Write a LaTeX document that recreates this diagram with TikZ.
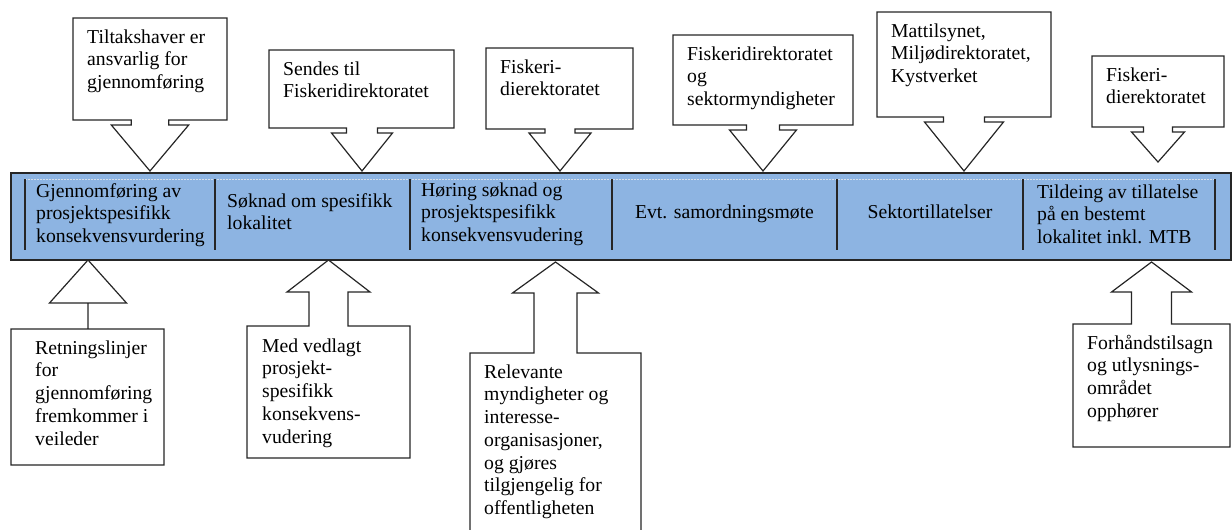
\documentclass[tikz,border=0pt]{standalone}
\usepackage{fontspec}
\setmainfont{Liberation Serif}
\definecolor{barblue}{RGB}{141,180,226}
\definecolor{ink}{RGB}{38,38,38}
\definecolor{dotline}{RGB}{215,222,232}
% strut that fixes the height of a label's first line
\newcommand\ts{\rule{0pt}{15pt}}
% callout box with a downward arrow:
% left, top, right, bottom, arrow x, shaft half width, shaft end, head half width, tip
\newcommand\calldown[9]{%
  \draw[callout] (#1,#2) -- (#3,#2) -- (#3,#4) -- ({#5+#6},#4) -- ({#5+#6},#7)
    -- ({#5+#8},#7) -- (#5,#9) -- ({#5-#8},#7) -- ({#5-#6},#7) -- ({#5-#6},#4)
    -- (#1,#4) -- cycle;}
% callout box with an upward arrow:
% left, top, right, bottom, arrow x, shaft half width, head base, head half width, tip
\newcommand\callup[9]{%
  \draw[callout] (#1,#2) -- (#1,#4) -- (#3,#4) -- (#3,#2) -- ({#5+#6},#2)
    -- ({#5+#6},#7) -- ({#5+#8},#7) -- (#5,#9) -- ({#5-#8},#7) -- ({#5-#6},#7)
    -- ({#5-#6},#2) -- cycle;}
\tikzset{
  callout/.style={draw=ink, line width=1.2pt, fill=white, line join=miter},
  barbox/.style={draw=ink, line width=1.5pt, fill=barblue, inner sep=0pt,
    anchor=north west},
  divider/.style={draw=ink, line width=1.3pt},
  txt/.style={anchor=north west, inner sep=0pt, align=left,
    font=\fontsize{19.7}{22.7}\selectfont},
  linetxt/.style={inner sep=0pt, font=\fontsize{19.7}{22.7}\selectfont}
}
\begin{document}
\begin{tikzpicture}[x=1pt, y=-1pt]
\useasboundingbox (0,0) rectangle (1232,530);

% timeline bar
\node[barbox, minimum width=1220pt, minimum height=87pt] (bar) at (10,172) {};
\draw[dotline, line width=0.8pt, dash pattern=on 1.5pt off 1.5pt] (25,179) -- (1215,179);
\foreach \x in {25,215,410,612,837,1023,1215}
  \draw[divider] (\x,179) -- (\x,250);

% phases
\node[txt] (s1) at (36,182) {\ts Gjennomføring av\\prosjektspesifikk\\konsekvensvurdering};
\node[txt] (s2) at (227,192) {\ts Søknad om spesifikk\\lokalitet};
\node[txt] (s3) at (421,181) {\ts Høring søknad og\\prosjektspesifikk\\konsekvensvudering};
\node[linetxt, anchor=base] (s4) at (724.5,218) {Evt. samordningsmøte};
\node[linetxt, anchor=base] (s5) at (930,218) {Sektortillatelser};
\node[txt] (s6) at (1037,183) {\ts Tildeing av tillatelse\\på en bestemt\\lokalitet inkl. MTB};

% callouts above the bar
\calldown{73}{18}{227}{120}{150}{18.7}{125}{38.7}{171}
\node[txt] (c1) at (87,28) {\ts Tiltakshaver er\\ansvarlig for\\gjennomføring};
\calldown{269}{50}{454}{128}{362}{15.5}{133}{30.5}{171}
\node[txt] (c2) at (283,60) {\ts Sendes til\\Fiskeridirektoratet};
\calldown{486}{48}{633}{129}{560}{15}{133}{31}{171}
\node[txt] (c3) at (500,58) {\ts Fiskeri-\\dierektoratet};
\calldown{673}{35}{853}{125}{763}{16.5}{130}{33.5}{171}
\node[txt] (c4) at (687,45) {\ts Fiskeridirektoratet\\og\\sektormyndigheter};
\calldown{877}{12}{1051}{117}{964}{20.5}{122}{39.5}{171}
\node[txt] (c5) at (891,22) {\ts Mattilsynet,\\Miljødirektoratet,\\Kystverket};
\calldown{1092}{56}{1224}{127}{1158}{14.5}{132}{26.5}{162}
\node[txt] (c6) at (1106,66) {\ts Fiskeri-\\dierektoratet};

% callouts below the bar
\callup{11}{329}{164}{465}{88}{0}{303}{38.5}{260}
\node[txt] (b1) at (35,339) {\ts Retningslinjer\\for\\gjennomføring\\fremkommer i\\veileder};
\callup{247}{326}{410}{458}{328.5}{19.5}{292}{41.5}{260}
\node[txt] (b2) at (262,337) {\ts Med vedlagt\\prosjekt-\\spesifikk\\konsekvens-\\vudering};
\callup{470}{353}{641}{545}{555.5}{21.5}{293}{43}{262}
\node[txt] (b3) at (484,363) {\ts Relevante\\myndigheter og\\interesse-\\organisasjoner,\\og gjøres\\tilgjengelig for\\offentligheten};
\callup{1073}{324}{1230}{447}{1151.5}{20}{292}{40}{262}
\node[txt] (b4) at (1087,334) {\ts Forhåndstilsagn\\og utlysnings-\\området\\opphører};
\end{tikzpicture}
\end{document}
